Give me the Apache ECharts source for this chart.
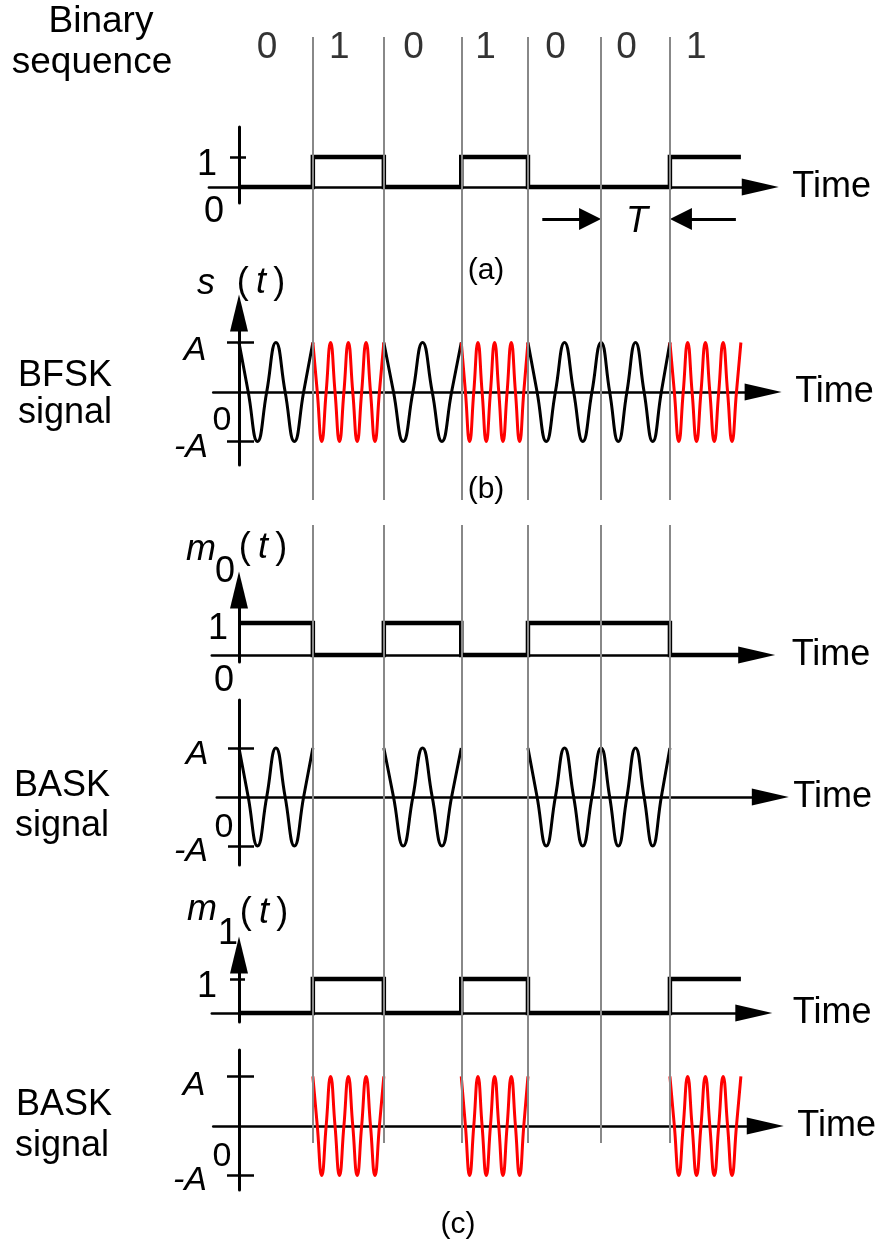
<!DOCTYPE html>
<html>
<head>
<meta charset="utf-8">
<script src="https://cdn.jsdelivr.net/npm/echarts@6/dist/echarts.min.js"></script>
<style>
  html, body { margin: 0; background: #fff; }
  #chart { width: 877px; height: 1242px; }
</style>
</head>
<body>
<div id="chart"></div>
<script>
const bits = [0, 1, 0, 1, 0, 0, 1];
// bit boundaries, in bit periods T
const bitEdges = [0, 1.03, 2.02, 3.10, 4.03, 5.05, 6.01, 7.0];
// carrier samples at quarter periods: 2 cycles per "0" bit, 4 cycles per "1" bit
const lowCarrier = [1, 0, -1, 0, 1, 0, -1, 0, 1];
const highCarrier = [1, 0, -1, 0, 1, 0, -1, 0, 1, 0, -1, 0, 1, 0, -1, 0, 1];
const ampTicks = [-1, 1];
const levelTicks = [1];

const FONT = "'Liberation Sans', Arial, sans-serif";
const X0 = 239, S = 71.7; // pixel of t = 0, pixels per bit period

// layout of every strip
const panels = {
  digits:      { top: 30,   height: 36,  x: [-0.36, 7.31], y: [0, 1], hidden: true },
  linesTop:    { top: 37,   height: 463, x: [-0.36, 7.31], y: [0, 1], hidden: true },
  a:           { top: 127,  height: 76,  x: [-0.42, 7.27], y: [-0.533, 2], ticks: [9, 7], tickValues: levelTicks, gap: 32, dy: 9 },
  period:      { top: 209,  height: 20,  x: [-0.36, 7.31], y: [0, 1], hidden: true },
  b:           { top: 313,  height: 152, x: [-0.36, 7.31], y: [-1.475, 1.596], arrow: true, ticks: [12, 15], tickValues: ampTicks, gap: 32, dy: -2 },
  linesBottom: { top: 525,  height: 618, x: [-0.36, 7.31], y: [0, 1], hidden: true },
  m0:          { top: 590,  height: 72,  x: [-0.38, 7.22], y: [-0.22, 2.03], arrow: true, gap: 35, dy: 13 },
  ask0:        { top: 700,  height: 165, x: [-0.31, 7.41], y: [-1.39, 1.98], ticks: [11, 15], tickValues: ampTicks, gap: 23, dy: 0 },
  m1:          { top: 955,  height: 67,  x: [-0.38, 7.18], y: [-0.265, 1.71], arrow: true, ticks: [9, 6], tickValues: levelTicks, gap: 39, dy: 7 },
  ask1:        { top: 1050, height: 140, x: [-0.36, 7.34], y: [-1.293, 1.535], ticks: [12, 15], tickValues: ampTicks, gap: 32, dy: -1 }
};

const keys = Object.keys(panels);
const idx = {};
keys.forEach((k, i) => { idx[k] = i; });

const grid = [], xAxis = [], yAxis = [], extraY = [];
const black = '#000';

keys.forEach((k, i) => {
  const p = panels[k];
  grid.push({
    left: X0 + p.x[0] * S, width: (p.x[1] - p.x[0]) * S,
    top: p.top, height: p.height, outerBoundsMode: 'none', containLabel: false
  });
  if (p.hidden) {
    xAxis.push({ type: 'value', gridIndex: i, min: p.x[0], max: p.x[1], show: false });
    yAxis.push({ type: 'value', gridIndex: i, min: p.y[0], max: p.y[1], show: false });
    return;
  }
  xAxis.push({
    type: 'value', gridIndex: i, min: p.x[0], max: p.x[1],
    axisLine: {
      show: true, onZero: true, onZeroAxisIndex: i,
      symbol: ['none', 'triangle'], symbolSize: [17, 37],
      lineStyle: { color: black, width: 2.5 }
    },
    axisTick: { show: false }, axisLabel: { show: false }, splitLine: { show: false },
    name: 'Time', nameLocation: 'end', nameGap: p.gap,
    nameTextStyle: {
      color: black, fontSize: 36, fontFamily: FONT,
      padding: p.dy > 0 ? [2 * p.dy, 0, 0, 0] : [0, 0, -2 * p.dy, 0]
    }
  });
  yAxis.push({
    type: 'value', gridIndex: i, min: p.y[0], max: p.y[1],
    axisLine: {
      show: true, onZero: true, onZeroAxisIndex: i,
      symbol: p.arrow ? ['none', 'triangle'] : 'none', symbolSize: [18, 37],
      lineStyle: { color: black, width: 3 }
    },
    axisTick: p.ticks
      ? { show: true, customValues: p.tickValues, length: p.ticks[0], lineStyle: { color: black, width: 2.5 } }
      : { show: false },
    axisLabel: { show: false }, splitLine: { show: false }
  });
  if (p.ticks) {
    // second axis on the same line, so the ticks cross it
    extraY.push({
      type: 'value', gridIndex: i, position: 'right', min: p.y[0], max: p.y[1],
      axisLine: { show: false, onZero: true, onZeroAxisIndex: i },
      axisTick: { show: true, customValues: p.tickValues, length: p.ticks[1], lineStyle: { color: black, width: 2.5 } },
      axisLabel: { show: false }, splitLine: { show: false }
    });
  }
});
yAxis.push(...extraY);

const series = [];

// binary digits above the strips
series.push({
  type: 'scatter', xAxisIndex: idx.digits, yAxisIndex: idx.digits, silent: true,
  symbolSize: 1, itemStyle: { color: 'transparent' },
  data: bits.map((b, i) => [(bitEdges[i] + bitEdges[i + 1]) / 2, 0.5, b]),
  label: {
    show: true, position: 'inside', offset: [-9, 0],
    formatter: (p) => String(p.value[2]),
    color: black, fontSize: 37, fontFamily: FONT, textBorderWidth: 0
  }
});

// grey bit boundaries
const boundaryLines = bitEdges.slice(1, -1).map((e) => ({ coords: [[e, 0], [e, 1]] }));
['linesTop', 'linesBottom'].forEach((k) => {
  series.push({
    type: 'lines', coordinateSystem: 'cartesian2d', xAxisIndex: idx[k], yAxisIndex: idx[k],
    data: boundaryLines, silent: true, z: 5,
    lineStyle: { color: '#888', width: 2, opacity: 1 }
  });
});

// rectangular waveforms
function stepLine(k, levels) {
  const data = levels.map((v, i) => [bitEdges[i], v]);
  data.push([bitEdges[levels.length], levels[levels.length - 1]]);
  series.push({
    type: 'line', xAxisIndex: idx[k], yAxisIndex: idx[k], step: 'end', data,
    showSymbol: false, symbol: 'none', silent: true, z: 3,
    lineStyle: { color: black, width: 4.5, join: 'miter', cap: 'butt' }
  });
}
stepLine('a', bits);
stepLine('m0', bits.map((b) => 1 - b));
stepLine('m1', bits);

// carrier bursts in the bits that carry them
function carrier(pattern, want) {
  const out = [];
  let prevKept = false;
  bits.forEach((b, i) => {
    if (b !== want) {
      if (prevKept) out.push([bitEdges[i], '-']);
      prevKept = false;
      return;
    }
    const a = bitEdges[i], w = bitEdges[i + 1] - a, n = pattern.length - 1;
    pattern.forEach((v, k) => {
      if (k === 0 && prevKept) return;
      out.push([a + (w * k) / n, v]);
    });
    prevKept = true;
  });
  return out;
}
function wave(k, data, color) {
  series.push({
    type: 'line', xAxisIndex: idx[k], yAxisIndex: idx[k], data,
    smooth: 0.5, connectNulls: false, showSymbol: false, symbol: 'none', silent: true, z: 3,
    lineStyle: { color, width: 3 }
  });
}
wave('b', carrier(lowCarrier, 0), black);
wave('b', carrier(highCarrier, 1), '#ff0000');
wave('ask0', carrier(lowCarrier, 0), black);
wave('ask1', carrier(highCarrier, 1), '#ff0000');

// T dimension arrows pointing at one bit period
const half = 11 / S;
series.push({
  type: 'lines', coordinateSystem: 'cartesian2d', xAxisIndex: idx.period, yAxisIndex: idx.period,
  symbol: ['none', 'triangle'], symbolSize: [14, 22], silent: true,
  lineStyle: { color: black, width: 3, opacity: 1 },
  data: [
    { coords: [[bitEdges[5] - 0.82, 0.5], [bitEdges[5] - half, 0.5]] },
    { coords: [[bitEdges[6] + 0.92, 0.5], [bitEdges[6] + half, 0.5]] }
  ]
});

// text annotations
function txt(text, x, y, o) {
  return {
    type: 'text', x, y, silent: true,
    style: Object.assign({ text, fill: black, fontSize: 36, fontFamily: FONT, align: 'center', verticalAlign: 'middle' }, o || {})
  };
}
const ital = { fontStyle: 'italic' };
const small = { fontSize: 34 };
const argT = {
  rich: { i: { fontStyle: 'italic', fontSize: 36, fontFamily: FONT, fill: black } }
};
const paren = '(\u2009{i|t}\u2009)';

const graphic = [
  txt('Binary', 101, 22, { fontSize: 37 }), txt('sequence', 92, 63, { fontSize: 37 }),
  txt('1', 207, 165), txt('0', 214, 212),
  txt('T', 637, 222, ital),
  txt('(a)', 486, 271, { fontSize: 30 }),
  txt('s', 206, 284, ital), txt(paren, 261, 283, argT),
  txt('BFSK', 65, 376), txt('signal', 65, 413),
  txt('A', 195, 351, Object.assign({}, ital, small)), txt('0', 222, 421, small), txt('-A', 191, 448, Object.assign({}, ital, small)),
  txt('(b)', 486, 490, { fontSize: 30 }),
  txt('m', 201, 550, ital), txt('0', 225, 572), txt(paren, 263, 548, argT),
  txt('1', 218, 629), txt('0', 224, 681),
  txt('BASK', 62, 786), txt('signal', 62, 826),
  txt('A', 197, 755, Object.assign({}, ital, small)), txt('0', 224, 828, small), txt('-A', 191, 852, Object.assign({}, ital, small)),
  txt('m', 202, 910, ital), txt('1', 228, 934), txt(paren, 264, 913, argT),
  txt('1', 207, 987),
  txt('BASK', 64, 1105), txt('signal', 62, 1146),
  txt('A', 194, 1086, Object.assign({}, ital, small)), txt('0', 222, 1157, small), txt('-A', 190, 1181, Object.assign({}, ital, small)),
  txt('(c)', 458, 1225, { fontSize: 30 })
];

const chart = echarts.init(document.getElementById('chart'), null, { renderer: 'canvas' });
chart.setOption({
  backgroundColor: '#fff',
  animation: false,
  textStyle: { fontFamily: FONT },
  grid, xAxis, yAxis, series, graphic
});
</script>
</body>
</html>
